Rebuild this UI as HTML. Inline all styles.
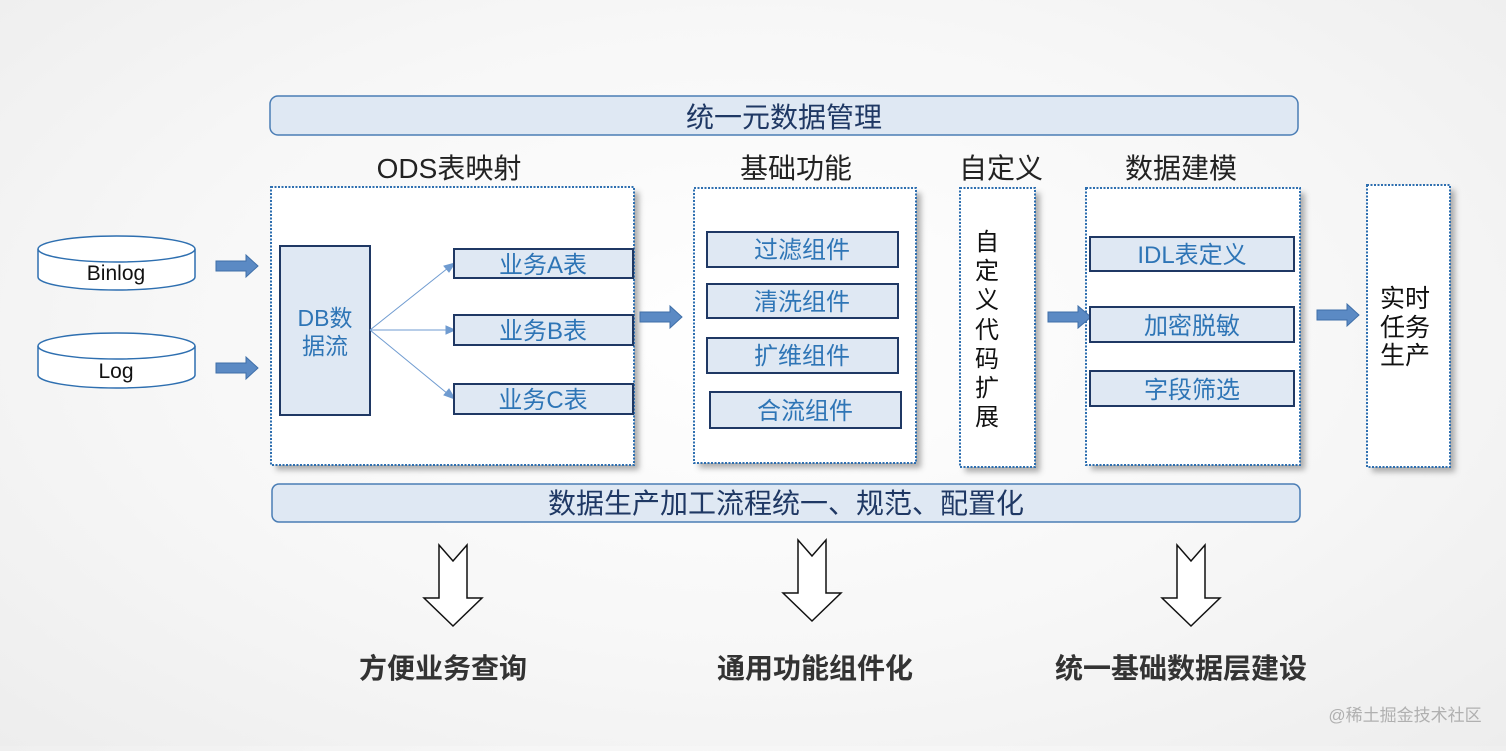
<!DOCTYPE html>
<html><head><meta charset="utf-8"><style>
html,body{margin:0;padding:0;}
body{width:1506px;height:746px;overflow:hidden;background:radial-gradient(ellipse at 50% 45%,#ffffff 0%,#f7f7f7 55%,#ededed 100%);}
svg text{font-family:"Liberation Sans","Noto Sans CJK SC",sans-serif;}
</style></head><body>
<svg width="1506" height="746" viewBox="0 0 1506 746" xmlns="http://www.w3.org/2000/svg">
<defs>
<filter id="sh" x="-10%" y="-10%" width="130%" height="130%"><feGaussianBlur stdDeviation="3"/></filter>
</defs>
<rect x="270" y="96" width="1028" height="39" rx="8" fill="#dfe8f3" stroke="#4a7db5" stroke-width="1.5"/>
<text x="784" y="127" font-size="28" fill="#1f3864" text-anchor="middle">统一元数据管理</text>
<g font-size="28" fill="#222" text-anchor="middle">
<text x="449" y="178">ODS表映射</text>
<text x="796" y="178">基础功能</text>
<text x="1001" y="178">自定义</text>
<text x="1181" y="178">数据建模</text>
</g>
<g fill="#9a9a9a" filter="url(#sh)" opacity="0.8">
<rect x="276" y="192" width="363" height="278"/>
<rect x="699" y="193" width="222" height="275"/>
<rect x="965" y="193" width="75" height="279"/>
<rect x="1091" y="193" width="214" height="277"/>
<rect x="1372" y="190" width="83" height="282"/>
</g>
<g fill="#fff" stroke="#2e6fb0" stroke-width="2" stroke-dasharray="2 1.5">
<rect x="271" y="187" width="363" height="278"/>
<rect x="694" y="188" width="222" height="275"/>
<rect x="960" y="188" width="75" height="279"/>
<rect x="1086" y="188" width="214" height="277"/>
<rect x="1367" y="185" width="83" height="282"/>
</g>
<g fill="#fff" stroke="#2e6fb0" stroke-width="1.5">
<path d="M38 249 L38 277 A78.5 13 0 0 0 195 277 L195 249"/>
<ellipse cx="116.5" cy="249" rx="78.5" ry="13"/>
<path d="M38 346 L38 375 A78.5 13 0 0 0 195 375 L195 346"/>
<ellipse cx="116.5" cy="346" rx="78.5" ry="13"/>
</g>
<g font-size="21" fill="#111" text-anchor="middle">
<text x="116" y="280">Binlog</text>
<text x="116" y="378">Log</text>
</g>
<g fill="#5b8ac4" stroke="#3f6fa8" stroke-width="1">
<polygon points="216,261 246,261 246,255 258,266 246,277 246,271 216,271"/>
<polygon points="216,363 246,363 246,357 258,368 246,379 246,373 216,373"/>
<polygon points="640,312 670,312 670,306 682,317 670,328 670,322 640,322"/>
<polygon points="1048,312 1078,312 1078,306 1091,317 1078,328 1078,322 1048,322"/>
<polygon points="1317,310 1347,310 1347,304 1359,315 1347,326 1347,320 1317,320"/>
</g>
<rect x="280" y="246" width="90" height="169" fill="#dfe8f3" stroke="#1f3864" stroke-width="2"/>
<g font-size="23" fill="#2e75b6" text-anchor="middle">
<text x="325" y="326">DB数</text>
<text x="325" y="354">据流</text>
</g>
<g stroke="#6f9bd0" stroke-width="1" fill="#6f9bd0">
<line x1="370" y1="330" x2="448" y2="268"/>
<line x1="370" y1="330" x2="447" y2="330"/>
<line x1="370" y1="330" x2="448" y2="394"/>
<polygon points="455,263 444,266 449,272"/>
<polygon points="455,330 446,326 446,334"/>
<polygon points="455,399 449,389 444,395"/>
</g>
<g fill="#dfe8f3" stroke="#1f3864" stroke-width="2">
<rect x="454" y="249" width="179" height="29"/>
<rect x="454" y="315" width="179" height="30"/>
<rect x="454" y="384" width="179" height="30"/>
<rect x="707" y="232" width="191" height="35"/>
<rect x="707" y="284" width="191" height="34"/>
<rect x="707" y="338" width="191" height="35"/>
<rect x="710" y="392" width="191" height="36"/>
<rect x="1090" y="237" width="204" height="34"/>
<rect x="1090" y="307" width="204" height="35"/>
<rect x="1090" y="371" width="204" height="35"/>
</g>
<g font-size="24" fill="#2e75b6" text-anchor="middle">
<text x="543" y="273">业务A表</text>
<text x="543" y="339">业务B表</text>
<text x="543" y="408">业务C表</text>
<text x="802" y="258">过滤组件</text>
<text x="802" y="310">清洗组件</text>
<text x="802" y="364">扩维组件</text>
<text x="805" y="419">合流组件</text>
<text x="1192" y="263">IDL表定义</text>
<text x="1192" y="334">加密脱敏</text>
<text x="1192" y="398">字段筛选</text>
</g>
<g font-size="24" fill="#111" text-anchor="middle">
<text x="987" y="250">自</text>
<text x="987" y="279">定</text>
<text x="987" y="308">义</text>
<text x="987" y="338">代</text>
<text x="987" y="367">码</text>
<text x="987" y="396">扩</text>
<text x="987" y="425">展</text>
</g>
<g font-size="25" fill="#111" text-anchor="middle">
<text x="1405" y="307">实时</text>
<text x="1405" y="336">任务</text>
<text x="1405" y="364">生产</text>
</g>
<rect x="272" y="484" width="1028" height="38" rx="7" fill="#dfe8f3" stroke="#4a7db5" stroke-width="1.5"/>
<text x="786" y="513" font-size="28" fill="#1f3864" text-anchor="middle">数据生产加工流程统一、规范、配置化</text>
<g fill="#fff" stroke="#111" stroke-width="1.5">
<polygon points="439,545 453,561 467,545 467,598 482,598 453,626 424,598 439,598"/>
<polygon points="798,540 812,556 826,540 826,593 841,593 812,621 783,593 798,593"/>
<polygon points="1177,545 1191,561 1205,545 1205,598 1220,598 1191,626 1162,598 1177,598"/>
</g>
<g font-size="28" font-weight="bold" fill="#333" text-anchor="middle">
<text x="443" y="678">方便业务查询</text>
<text x="815" y="678">通用功能组件化</text>
<text x="1181" y="678">统一基础数据层建设</text>
</g>
<text x="1405" y="721" font-size="17" fill="#b0b0b0" text-anchor="middle">@稀土掘金技术社区</text>
</svg>
</body></html>
